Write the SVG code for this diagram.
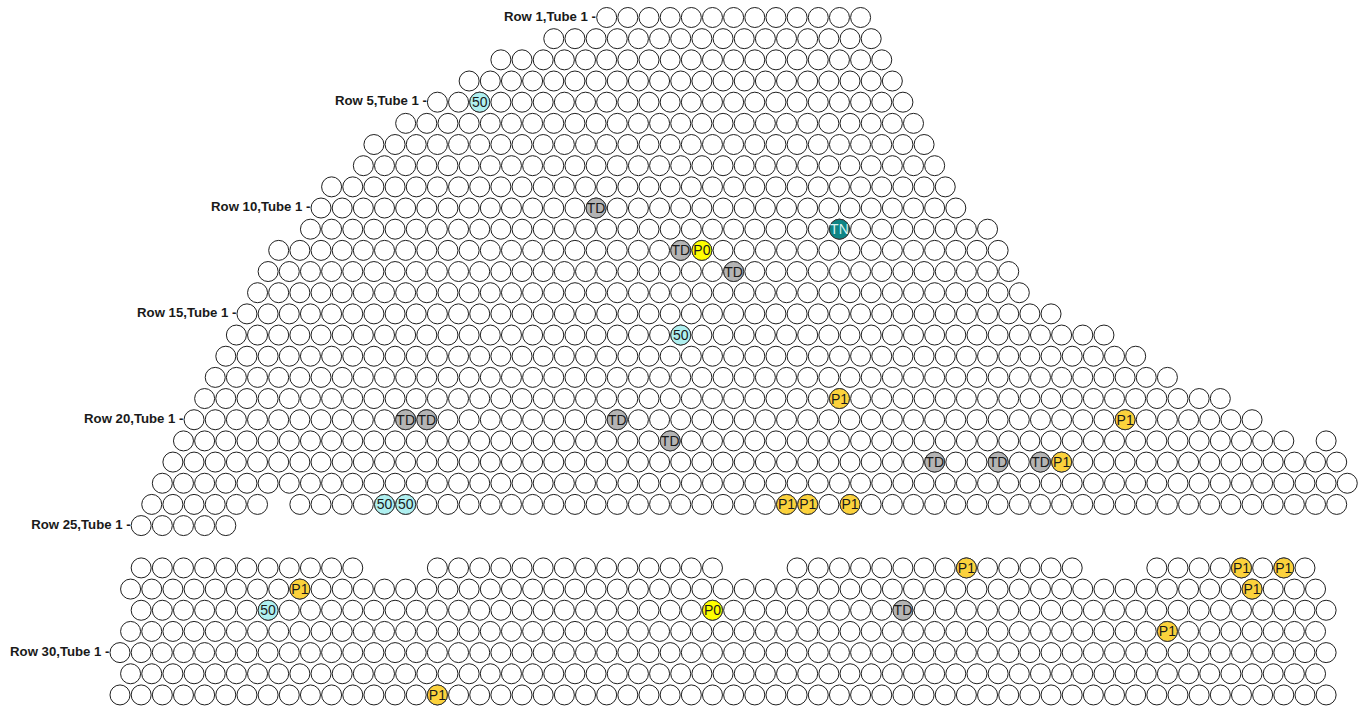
<svg xmlns="http://www.w3.org/2000/svg" xmlns:xlink="http://www.w3.org/1999/xlink" width="1361" height="708" viewBox="0 0 1361 708">
<style>
.bg{fill:#fff}
.tubes{fill:#fff;stroke:#1f1f1f;stroke-width:1}
.lbl{font-family:"Liberation Sans",Arial,sans-serif;font-size:13.2px;font-weight:bold;fill:#1a1a1a;text-anchor:end}
.hl circle{stroke:#333;stroke-width:1}
.hl text{font-family:"Liberation Sans",Arial,sans-serif;font-size:14px;fill:#1a1a1a;text-anchor:middle}
.cy circle{fill:#aff0f0}
.gr circle{fill:#b4b4b4}
.tn circle{fill:#0e8585}
.tn text{fill:#d8f2f2}
.p0 circle{fill:#ffff00}
.p1 circle{fill:#fcd23c}
</style>
<defs>
<circle id="t" cx="0" cy="0" r="10"/>
<g id="t2"><use href="#t"/><use href="#t" x="21.16"/></g>
<g id="t4"><use href="#t2"/><use href="#t2" x="42.32"/></g>
<g id="t8"><use href="#t4"/><use href="#t4" x="84.64"/></g>
<g id="t16"><use href="#t8"/><use href="#t8" x="169.28"/></g>
<g id="t32"><use href="#t16"/><use href="#t16" x="338.56"/></g>
</defs>
<rect class="bg" x="0" y="0" width="1361" height="708"/>
<g id="labels">
<text class="lbl" x="596" y="20.7">Row 1,Tube 1 -</text>
<text class="lbl" x="427" y="105.4">Row 5,Tube 1 -</text>
<text class="lbl" x="310.5" y="211.2">Row 10,Tube 1 -</text>
<text class="lbl" x="236.5" y="317.1">Row 15,Tube 1 -</text>
<text class="lbl" x="183.5" y="422.9">Row 20,Tube 1 -</text>
<text class="lbl" x="130.6" y="528.8">Row 25,Tube 1 -</text>
<text class="lbl" x="109.5" y="655.8">Row 30,Tube 1 -</text>
</g>
<g id="tubesheet" class="tubes">
<g id="row-1" transform="translate(606.68,17.5)"><use href="#t8"/><use href="#t4" x="169.28"/><use href="#t" x="253.92"/></g>
<g id="row-2" transform="translate(553.78,38.67)"><use href="#t16"/></g>
<g id="row-3" transform="translate(500.88,59.84)"><use href="#t16"/><use href="#t2" x="338.56"/><use href="#t" x="380.88"/></g>
<g id="row-4" transform="translate(469.14,81.01)"><use href="#t16"/><use href="#t4" x="338.56"/><use href="#t" x="423.2"/></g>
<g id="row-5" transform="translate(437.4,102.18)"><use href="#t16"/><use href="#t4" x="338.56"/><use href="#t2" x="423.2"/><use href="#t" x="465.52"/></g>
<g id="row-6" transform="translate(405.66,123.35)"><use href="#t16"/><use href="#t8" x="338.56"/><use href="#t" x="507.84"/></g>
<g id="row-7" transform="translate(373.92,144.52)"><use href="#t16"/><use href="#t8" x="338.56"/><use href="#t2" x="507.84"/><use href="#t" x="550.16"/></g>
<g id="row-8" transform="translate(363.34,165.69)"><use href="#t16"/><use href="#t8" x="338.56"/><use href="#t4" x="507.84"/></g>
<g id="row-9" transform="translate(331.6,186.86)"><use href="#t16"/><use href="#t8" x="338.56"/><use href="#t4" x="507.84"/><use href="#t2" x="592.48"/></g>
<g id="row-10" transform="translate(321.02,208.03)"><use href="#t16"/><use href="#t8" x="338.56"/><use href="#t4" x="507.84"/><use href="#t2" x="592.48"/><use href="#t" x="634.8"/></g>
<g id="row-11" transform="translate(310.44,229.2)"><use href="#t32"/><use href="#t" x="677.12"/></g>
<g id="row-12" transform="translate(278.7,250.37)"><use href="#t32"/><use href="#t2" x="677.12"/><use href="#t" x="719.44"/></g>
<g id="row-13" transform="translate(268.12,271.54)"><use href="#t32"/><use href="#t4" x="677.12"/></g>
<g id="row-14" transform="translate(257.54,292.71)"><use href="#t32"/><use href="#t4" x="677.12"/><use href="#t" x="761.76"/></g>
<g id="row-15" transform="translate(246.96,313.88)"><use href="#t32"/><use href="#t4" x="677.12"/><use href="#t2" x="761.76"/><use href="#t" x="804.08"/></g>
<g id="row-16" transform="translate(236.38,335.05)"><use href="#t32"/><use href="#t8" x="677.12"/><use href="#t2" x="846.4"/></g>
<g id="row-17" transform="translate(225.8,356.22)"><use href="#t32"/><use href="#t8" x="677.12"/><use href="#t4" x="846.4"/></g>
<g id="row-18" transform="translate(215.22,377.39)"><use href="#t32"/><use href="#t8" x="677.12"/><use href="#t4" x="846.4"/><use href="#t2" x="931.04"/></g>
<g id="row-19" transform="translate(204.64,398.56)"><use href="#t32"/><use href="#t16" x="677.12"/><use href="#t" x="1015.68"/></g>
<g id="row-20" transform="translate(194.06,419.73)"><use href="#t32"/><use href="#t16" x="677.12"/><use href="#t2" x="1015.68"/><use href="#t" x="1058"/></g>
<g id="row-21" transform="translate(183.48,440.9)"><use href="#t32"/><use href="#t16" x="677.12"/><use href="#t4" x="1015.68"/><use href="#t" x="1100.32"/><use href="#t" x="1142.64"/></g>
<g id="row-22" transform="translate(172.9,462.07)"><use href="#t32"/><use href="#t16" x="677.12"/><use href="#t8" x="1015.68"/></g>
<g id="row-23" transform="translate(162.32,483.24)"><use href="#t32"/><use href="#t16" x="677.12"/><use href="#t8" x="1015.68"/><use href="#t" x="1184.96"/></g>
<g id="row-24" transform="translate(151.74,504.41)"><use href="#t4"/><use href="#t2" x="84.64"/><use href="#t32" x="148.12"/><use href="#t16" x="825.24"/><use href="#t2" x="1163.8"/></g>
<g id="row-25" transform="translate(141.16,525.58)"><use href="#t4"/><use href="#t" x="84.64"/></g>
<g id="row-26" transform="translate(141.16,567.92)"><use href="#t8"/><use href="#t2" x="169.28"/><use href="#t" x="211.6"/><use href="#t8" x="296.24"/><use href="#t4" x="465.52"/><use href="#t2" x="550.16"/><use href="#t8" x="655.96"/><use href="#t4" x="825.24"/><use href="#t2" x="909.88"/><use href="#t8" x="1015.68"/></g>
<g id="row-27" transform="translate(130.58,589.09)"><use href="#t32"/><use href="#t16" x="677.12"/><use href="#t8" x="1015.68"/><use href="#t" x="1184.96"/></g>
<g id="row-28" transform="translate(141.16,610.26)"><use href="#t32"/><use href="#t16" x="677.12"/><use href="#t8" x="1015.68"/><use href="#t" x="1184.96"/></g>
<g id="row-29" transform="translate(130.58,631.43)"><use href="#t32"/><use href="#t16" x="677.12"/><use href="#t8" x="1015.68"/><use href="#t" x="1184.96"/></g>
<g id="row-30" transform="translate(120,652.6)"><use href="#t32"/><use href="#t16" x="677.12"/><use href="#t8" x="1015.68"/><use href="#t2" x="1184.96"/></g>
<g id="row-31" transform="translate(130.58,673.77)"><use href="#t32"/><use href="#t16" x="677.12"/><use href="#t8" x="1015.68"/><use href="#t" x="1184.96"/></g>
<g id="row-32" transform="translate(120,694.94)"><use href="#t32"/><use href="#t16" x="677.12"/><use href="#t8" x="1015.68"/><use href="#t2" x="1184.96"/></g>
</g>
<g id="marked" class="hl">
<g id="r5-c34" class="cy" transform="translate(479.72,102.18)"><circle r="10"/><text y="5">50</text></g>
<g id="r10-c45" class="gr" transform="translate(596.1,208.03)"><circle r="10"/><text y="5">TD</text></g>
<g id="r11-c68" class="tn" transform="translate(839.44,229.2)"><circle r="10"/><text y="5">TN</text></g>
<g id="r12-c53" class="gr" transform="translate(680.74,250.37)"><circle r="10"/><text y="5">TD</text></g>
<g id="r12-c55" class="p0" transform="translate(701.9,250.37)"><circle r="10"/><text y="5">P0</text></g>
<g id="r13-c58" class="gr" transform="translate(733.64,271.54)"><circle r="10"/><text y="5">TD</text></g>
<g id="r16-c53" class="cy" transform="translate(680.74,335.05)"><circle r="10"/><text y="5">50</text></g>
<g id="r19-c68" class="p1" transform="translate(839.44,398.56)"><circle r="10"/><text y="5">P1</text></g>
<g id="r20-c27" class="gr" transform="translate(405.66,419.73)"><circle r="10"/><text y="5">TD</text></g>
<g id="r20-c29" class="gr" transform="translate(426.82,419.73)"><circle r="10"/><text y="5">TD</text></g>
<g id="r20-c47" class="gr" transform="translate(617.26,419.73)"><circle r="10"/><text y="5">TD</text></g>
<g id="r20-c95" class="p1" transform="translate(1125.1,419.73)"><circle r="10"/><text y="5">P1</text></g>
<g id="r21-c52" class="gr" transform="translate(670.16,440.9)"><circle r="10"/><text y="5">TD</text></g>
<g id="r22-c77" class="gr" transform="translate(934.66,462.07)"><circle r="10"/><text y="5">TD</text></g>
<g id="r22-c83" class="gr" transform="translate(998.14,462.07)"><circle r="10"/><text y="5">TD</text></g>
<g id="r22-c87" class="gr" transform="translate(1040.46,462.07)"><circle r="10"/><text y="5">TD</text></g>
<g id="r22-c89" class="p1" transform="translate(1061.62,462.07)"><circle r="10"/><text y="5">P1</text></g>
<g id="r24-c25" class="cy" transform="translate(384.5,504.41)"><circle r="10"/><text y="5">50</text></g>
<g id="r24-c27" class="cy" transform="translate(405.66,504.41)"><circle r="10"/><text y="5">50</text></g>
<g id="r24-c63" class="p1" transform="translate(786.54,504.41)"><circle r="10"/><text y="5">P1</text></g>
<g id="r24-c65" class="p1" transform="translate(807.7,504.41)"><circle r="10"/><text y="5">P1</text></g>
<g id="r24-c69" class="p1" transform="translate(850.02,504.41)"><circle r="10"/><text y="5">P1</text></g>
<g id="r26-c80" class="p1" transform="translate(966.4,567.92)"><circle r="10"/><text y="5">P1</text></g>
<g id="r26-c106" class="p1" transform="translate(1241.48,567.92)"><circle r="10"/><text y="5">P1</text></g>
<g id="r26-c110" class="p1" transform="translate(1283.8,567.92)"><circle r="10"/><text y="5">P1</text></g>
<g id="r27-c17" class="p1" transform="translate(299.86,589.09)"><circle r="10"/><text y="5">P1</text></g>
<g id="r27-c107" class="p1" transform="translate(1252.06,589.09)"><circle r="10"/><text y="5">P1</text></g>
<g id="r28-c14" class="cy" transform="translate(268.12,610.26)"><circle r="10"/><text y="5">50</text></g>
<g id="r28-c56" class="p0" transform="translate(712.48,610.26)"><circle r="10"/><text y="5">P0</text></g>
<g id="r28-c74" class="gr" transform="translate(902.92,610.26)"><circle r="10"/><text y="5">TD</text></g>
<g id="r29-c99" class="p1" transform="translate(1167.42,631.43)"><circle r="10"/><text y="5">P1</text></g>
<g id="r32-c30" class="p1" transform="translate(437.4,694.94)"><circle r="10"/><text y="5">P1</text></g>
</g>
</svg>
